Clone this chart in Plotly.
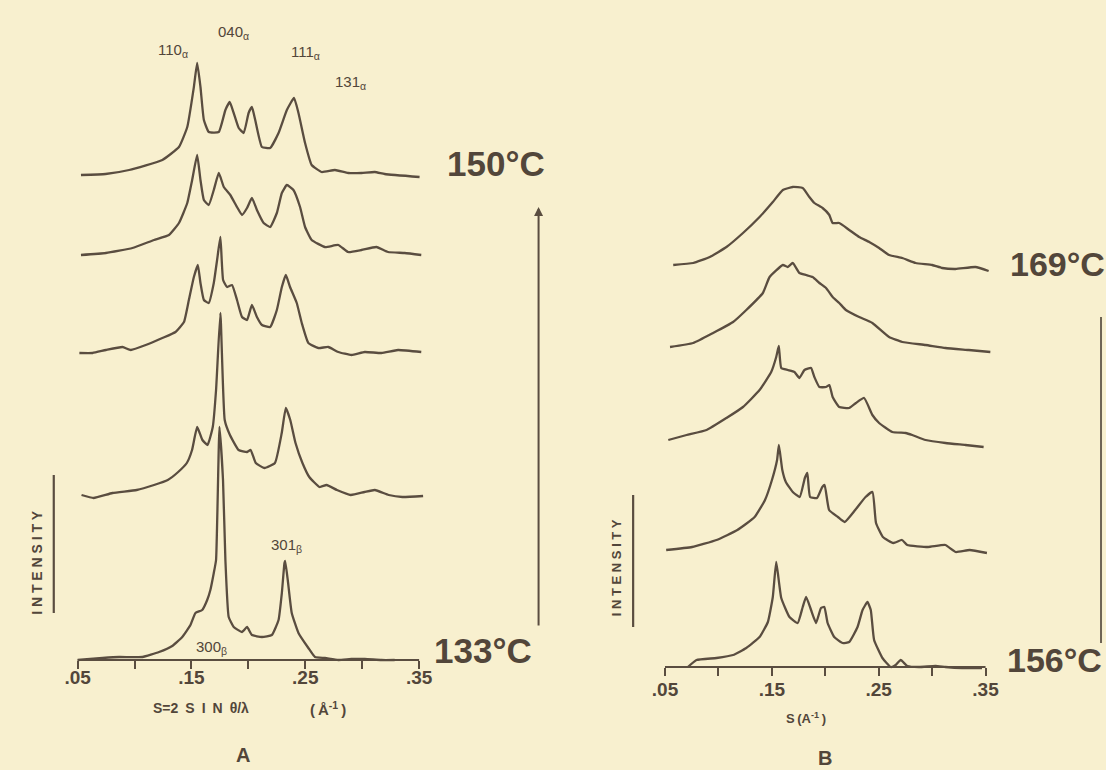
import plotly.graph_objects as go

W, H = 1106, 770
BG = "#f8f0cf"
LINE = "#5a4d40"
TEXT = "#52463a"
FONT = "Liberation Sans, Arial, sans-serif"

# ---------------- data: panel A  (s in 1/Angstrom, intensity in arbitrary units) ----------------
a1_s = [0.0529, 0.0745, 0.0952, 0.1244, 0.1390, 0.1463, 0.1521, 0.1550, 0.1579, 0.1609,
        0.1652, 0.1740, 0.1798, 0.1836, 0.1871, 0.1915, 0.1959, 0.2002, 0.2031, 0.2060,
        0.2119, 0.2191, 0.2265, 0.2338, 0.2401, 0.2440, 0.2498, 0.2556, 0.2644, 0.2760,
        0.2877, 0.2994, 0.3110, 0.3198, 0.3504]
a1_i = [1, 2, 6, 16, 29, 49, 89, 113, 89, 56,
        44, 44, 66, 74, 63, 48, 43, 63, 69, 56,
        29, 28, 43, 66, 78, 63, 33, 11, 4, 6,
        3, 3, 4, 2, -1]

a2_s = [0.0529, 0.0748, 0.0981, 0.1171, 0.1302, 0.1390, 0.1463, 0.1506, 0.1550, 0.1579,
        0.1609, 0.1652, 0.1696, 0.1740, 0.1784, 0.1841, 0.1900, 0.1944, 0.1988, 0.2031,
        0.2075, 0.2134, 0.2191, 0.2250, 0.2294, 0.2338, 0.2396, 0.2454, 0.2498, 0.2556,
        0.2673, 0.2790, 0.2877, 0.2994, 0.3125, 0.3227, 0.3373, 0.3519]
a2_i = [-1, 1, 6, 14, 19, 31, 51, 74, 99, 74,
        54, 49, 64, 81, 67, 59, 47, 39, 46, 56,
        44, 31, 27, 41, 61, 69, 64, 47, 27, 14,
        7, 9, 2, 4, 7, 2, 1, -1]

a3_s = [0.0515, 0.0631, 0.0748, 0.0894, 0.0966, 0.1098, 0.1244, 0.1360, 0.1434, 0.1477,
        0.1521, 0.1556, 0.1579, 0.1609, 0.1652, 0.1696, 0.1725, 0.1754, 0.1778, 0.1813,
        0.1856, 0.1900, 0.1944, 0.1988, 0.2031, 0.2075, 0.2119, 0.2191, 0.2250, 0.2294,
        0.2329, 0.2366, 0.2425, 0.2469, 0.2527, 0.2615, 0.2702, 0.2790, 0.2906, 0.3023,
        0.3169, 0.3315, 0.3519]
a3_i = [-1, -1, 2, 5, 2, 7, 14, 20, 30, 52,
        75, 87, 69, 52, 49, 69, 92, 115, 72, 65,
        67, 52, 35, 32, 47, 35, 27, 25, 42, 65,
        77, 65, 49, 29, 9, 4, 5, 0, -3, 0,
        -1, 2, 0]

a4_s = [0.0534, 0.0640, 0.0806, 0.1019, 0.1171, 0.1292, 0.1383, 0.1459, 0.1505, 0.1550,
        0.1596, 0.1641, 0.1687, 0.1716, 0.1754, 0.1792, 0.1838, 0.1914, 0.1989, 0.2020,
        0.2065, 0.2141, 0.2233, 0.2293, 0.2329, 0.2368, 0.2414, 0.2475, 0.2535, 0.2626,
        0.2687, 0.2778, 0.2899, 0.3020, 0.3111, 0.3233, 0.3353, 0.3535]
a4_i = [0, -3, 2, 5, 10, 15, 23, 32, 45, 68,
        55, 50, 68, 105, 182, 75, 60, 45, 43, 45,
        32, 27, 32, 62, 87, 75, 52, 32, 18, 8,
        10, 5, 0, 3, 5, 0, -2, -1]

a5_s = [0.0500, 0.0719, 0.0865, 0.1069, 0.1215, 0.1331, 0.1419, 0.1491, 0.1535, 0.1594,
        0.1638, 0.1666, 0.1696, 0.1716, 0.1746, 0.1777, 0.1798, 0.1827, 0.1871, 0.1944,
        0.1988, 0.2031, 0.2119, 0.2206, 0.2265, 0.2294, 0.2317, 0.2323, 0.2346, 0.2381,
        0.2440, 0.2527, 0.2585, 0.2673, 0.2790, 0.2906, 0.3023, 0.3169, 0.3285]
a5_i = [0, 2, 3, 3, 8, 14, 23, 35, 47, 50,
        60, 70, 87, 100, 233, 180, 100, 43, 33, 28,
        33, 25, 23, 25, 40, 67, 97, 99, 80, 47,
        27, 12, 3, 2, 0, 1, 1, 0, 0]

# ---------------- data: panel B ----------------
b1_s = [0.0577, 0.0764, 0.0919, 0.1075, 0.1230, 0.1385, 0.1509, 0.1603, 0.1696, 0.1789,
        0.1851, 0.1898, 0.1975, 0.2038, 0.2069, 0.2131, 0.2224, 0.2317, 0.2411, 0.2504,
        0.2597, 0.2721, 0.2846, 0.3001, 0.3094, 0.3219, 0.3405, 0.3529]
b1_i = [1, 3, 9, 19, 33, 49, 64, 76, 79, 78,
        69, 63, 58, 51, 43, 43, 36, 29, 24, 18,
        11, 8, 3, 1, -2, -3, -1, -5]

b2_s = [0.0547, 0.0764, 0.0950, 0.1137, 0.1261, 0.1416, 0.1479, 0.1603, 0.1649, 0.1696,
        0.1758, 0.1821, 0.1882, 0.1945, 0.2007, 0.2069, 0.2131, 0.2193, 0.2317, 0.2441,
        0.2597, 0.2721, 0.2939, 0.3125, 0.3343, 0.3545]
b2_i = [1, 5, 15, 26, 38, 55, 71, 83, 81, 85,
        75, 73, 71, 65, 60, 51, 45, 38, 31, 25,
        11, 6, 3, 0, -2, -4]

b3_s = [0.0531, 0.0702, 0.0889, 0.1075, 0.1230, 0.1385, 0.1494, 0.1541, 0.1565, 0.1588,
        0.1649, 0.1712, 0.1758, 0.1805, 0.1867, 0.1898, 0.1945, 0.2007, 0.2038, 0.2069,
        0.2131, 0.2224, 0.2287, 0.2364, 0.2441, 0.2504, 0.2628, 0.2753, 0.2814, 0.2939,
        0.3125, 0.3312, 0.3482]
b3_i = [3, 8, 13, 25, 36, 53, 71, 86, 97, 75,
        73, 71, 65, 73, 75, 66, 56, 56, 58, 46,
        36, 35, 40, 45, 28, 20, 11, 10, 8, 3,
        0, -2, -4]

b4_s = [0.0511, 0.0754, 0.0982, 0.1177, 0.1339, 0.1436, 0.1501, 0.1549, 0.1566, 0.1598,
        0.1631, 0.1696, 0.1761, 0.1809, 0.1832, 0.1858, 0.1923, 0.1972, 0.1994, 0.2036,
        0.2118, 0.2182, 0.2280, 0.2377, 0.2442, 0.2475, 0.2539, 0.2637, 0.2718, 0.2767,
        0.2961, 0.3124, 0.3221, 0.3351, 0.3513]
b4_i = [0, 3, 10, 20, 33, 50, 70, 90, 105, 80,
        68, 58, 53, 72, 77, 53, 52, 63, 65, 40,
        33, 28, 40, 53, 58, 27, 13, 7, 10, 5,
        3, 5, -2, 0, -3]

b5_s = [0.0714, 0.0795, 0.0982, 0.1137, 0.1261, 0.1385, 0.1463, 0.1509, 0.1541, 0.1588,
        0.1665, 0.1742, 0.1789, 0.1821, 0.1867, 0.1914, 0.1960, 0.1991, 0.2022, 0.2084,
        0.2162, 0.2224, 0.2302, 0.2349, 0.2395, 0.2426, 0.2457, 0.2535, 0.2613, 0.2659,
        0.2706, 0.2768, 0.2877, 0.3032, 0.3125, 0.3280, 0.3467]
b5_i = [0, 7, 9, 12, 19, 30, 45, 70, 105, 69,
        50, 44, 60, 70, 57, 44, 59, 60, 44, 30,
        24, 25, 40, 57, 65, 57, 27, 9, 0, 2,
        7, 1, 0, 1, 0, -1, -1]

label_ticks = [0.05, 0.15, 0.25, 0.35]
label_text = [".05", ".15", ".25", ".35"]
minor_ticks = [0.10, 0.20, 0.30]

temps_a = ["150°C", "133°C"]
temps_b = ["169°C", "156°C"]

# vertical stacking offsets of the curves (layout, not data)
offsets_a = [484, 406, 308, 165, 0]
offsets_b = [401, 319, 224, 117, 0]

series_a = [(a1_s, a1_i), (a2_s, a2_i), (a3_s, a3_i), (a4_s, a4_i), (a5_s, a5_i)]
series_b = [(b1_s, b1_i), (b2_s, b2_i), (b3_s, b3_i), (b4_s, b4_i), (b5_s, b5_i)]


def px(x):
    return x / W


def py(y):
    return 1 - y / H


fig = go.Figure()
for (s, i), off in zip(series_a, offsets_a):
    fig.add_trace(go.Scatter(x=s, y=[v + off for v in i], mode="lines", xaxis="x", yaxis="y",
                             line=dict(color=LINE, width=2.3, shape="spline", smoothing=0.4),
                             showlegend=False, hoverinfo="skip"))
for (s, i), off in zip(series_b, offsets_b):
    fig.add_trace(go.Scatter(x=s, y=[v + off for v in i], mode="lines", xaxis="x2", yaxis="y2",
                             line=dict(color=LINE, width=2.3, shape="spline", smoothing=0.4),
                             showlegend=False, hoverinfo="skip"))

# axis geometry (pixels)
A_X0, A_X1, A_Y = 75, 418, 660
B_X0, B_X1, B_Y = 665, 987, 667
a_scale = (A_X1 - A_X0) / 0.30
b_scale = (B_X1 - B_X0) / 0.30


def s_range(p0, p1, x0, scale):
    return [0.05 + (p0 - x0) / scale, 0.05 + (p1 - x0) / scale]


xcommon = dict(tickmode="array", tickvals=label_ticks, ticktext=label_text, ticks="outside",
               ticklen=8, tickwidth=2, tickcolor=LINE, showgrid=False, zeroline=False,
               showline=False, anchor="free",
               minor=dict(tickmode="array", tickvals=minor_ticks, ticks="outside", ticklen=8,
                          tickwidth=2, tickcolor=LINE, showgrid=False),
               tickfont=dict(family=FONT, size=19, color=TEXT, weight="bold"))

PAD = 14
fig.update_layout(
    width=W, height=H, autosize=False,
    margin=dict(l=0, r=0, t=0, b=0),
    paper_bgcolor=BG, plot_bgcolor="rgba(0,0,0,0)",
    xaxis=dict(domain=[px(60), px(430)], range=s_range(60, 430, A_X0, a_scale),
               position=py(A_Y), ticklabelstandoff=-8, **xcommon),
    yaxis=dict(domain=[py(A_Y + PAD), 1], range=[-PAD, A_Y], visible=False),
    xaxis2=dict(domain=[px(655), px(1000)], range=s_range(655, 1000, B_X0, b_scale),
                position=py(B_Y), ticklabelstandoff=-3, **xcommon),
    yaxis2=dict(domain=[py(B_Y + PAD), 1], range=[-PAD, B_Y], visible=False),
)

# x axis lines from .05 to .35 in data coordinates
shapes = [
    dict(type="line", xref="x", yref="y", x0=label_ticks[0], x1=label_ticks[-1], y0=0, y1=0,
         line=dict(color=LINE, width=2.2)),
    dict(type="line", xref="x2", yref="y2", x0=label_ticks[0], x1=label_ticks[-1], y0=0, y1=0,
         line=dict(color=LINE, width=2.2)),
    # intensity scale bars
    dict(type="line", xref="paper", yref="paper", x0=px(51), x1=px(51), y0=py(475), y1=py(613),
         line=dict(color=LINE, width=2.2)),
    dict(type="line", xref="paper", yref="paper", x0=px(633), x1=px(633), y0=py(495), y1=py(627),
         line=dict(color=LINE, width=2.2)),
    # page edge line at right
    dict(type="line", xref="paper", yref="paper", x0=px(1103), x1=px(1103), y0=py(317), y1=py(643),
         line=dict(color="#6e6454", width=2)),
]
fig.update_layout(shapes=shapes)


def ann(text, x, y, size, xanchor="left", weight="normal", angle=0):
    fig.add_annotation(text=text, x=px(x), y=py(y), xref="paper", yref="paper",
                       xanchor=xanchor, yanchor="middle", showarrow=False, textangle=angle,
                       font=dict(family=FONT, size=size, color=TEXT, weight=weight))


# reflection labels
ann("110<sub>α</sub>", 154, 50, 15)
ann("040<sub>α</sub>", 214, 32, 15)
ann("111<sub>α</sub>", 287, 52, 15)
ann("131<sub>α</sub>", 331, 82, 15)
ann("301<sub>β</sub>", 267, 545, 15)
ann("300<sub>β</sub>", 192, 647, 15)

# temperatures
ann(temps_a[0], 444, 164, 35, weight="bold")
ann(temps_a[1], 431, 650, 35, weight="bold")
ann(temps_b[0], 1010, 264, 34, weight="bold")
ann(temps_b[1], 1007, 660, 34, weight="bold")

# axis titles
ann("S=2\u2002S\u2002I\u2002N\u2002θ/λ", 199, 708, 14, xanchor="center", weight="bold")
ann("(\u2009Å<sup>-1</sup>\u2009)", 326, 708, 15, xanchor="center", weight="bold")
ann("S\u2009(A<sup>-1</sup>\u2009)", 807, 718, 13, xanchor="center", weight="bold")
ann("A", 241, 755, 20, xanchor="center", weight="bold")
ann("B", 826, 758, 20, xanchor="center", weight="bold")
ann("I N T E N S I T Y", 34, 562, 14, xanchor="center", weight="bold", angle=-90)
ann("I N T E N S I T Y", 616, 568, 13, xanchor="center", weight="bold", angle=-90)

# heating arrow between panels
fig.add_annotation(x=px(538), y=py(207), xref="paper", yref="paper", text="",
                   showarrow=True, ax=0, ay=420, arrowhead=2, arrowsize=0.9,
                   arrowwidth=2, arrowcolor=LINE, standoff=0)

fig.write_html("out.html", config={"displayModeBar": False},
               post_script="document.body.style.margin='0';")
